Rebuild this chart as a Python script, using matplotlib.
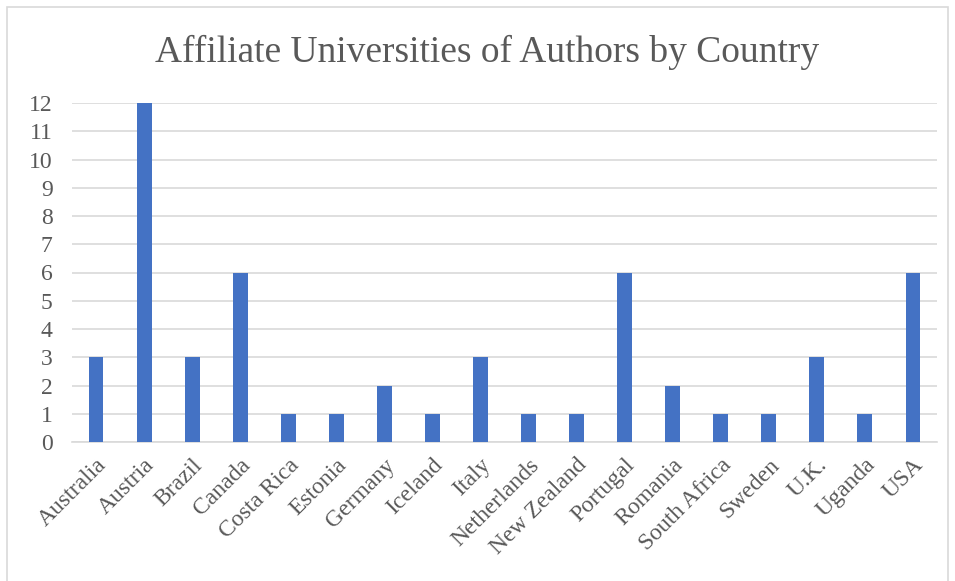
import matplotlib.pyplot as plt
from matplotlib.patches import Rectangle

countries = ["Australia", "Austria", "Brazil", "Canada", "Costa Rica", "Estonia",
             "Germany", "Iceland", "Italy", "Netherlands", "New Zealand", "Portugal",
             "Romania", "South Africa", "Sweden", "U.K.", "Uganda", "USA"]
counts = [3, 12, 3, 6, 1, 1, 2, 1, 3, 1, 1, 6, 2, 1, 1, 3, 1, 6]
yticks = list(range(0, 13))

plt.rcParams['font.family'] = ['Liberation Serif', 'DejaVu Serif']
text_color = "#595959"

fig = plt.figure(figsize=(9.55, 5.81), dpi=100)
ax = fig.add_axes([72 / 955, 1 - 442 / 581, (937 - 72) / 955, (442 - 103) / 581])

x = list(range(len(countries)))
ax.bar(x, counts, width=0.31, color="#4472C4", zorder=3)

ax.set_xlim(-0.5, len(countries) - 0.5)
ax.set_ylim(0, 12)
ax.set_yticks(yticks)
ax.set_xticks(x)
ax.set_xticklabels(countries, rotation=45, ha="right", va="top",
                   rotation_mode="anchor", fontsize=17, color=text_color)
ax.tick_params(axis="y", labelsize=17, labelcolor=text_color, length=0, pad=14)
ax.tick_params(axis="x", length=0, pad=9)

ax.grid(axis="y", color="#D9D9D9", linewidth=1.2, zorder=0)
for s in ["top", "right", "left"]:
    ax.spines[s].set_visible(False)
ax.spines["bottom"].set_color("#D9D9D9")
ax.spines["bottom"].set_linewidth(1.2)

fig.text(487 / 955, 1 - 52 / 581, "Affiliate Universities of Authors by Country",
         ha="center", va="center", fontsize=27, color=text_color)

# light border round the chart area
fig.patches.append(Rectangle((7 / 955, -0.01), (948 - 7) / 955, 1 - 7 / 581 + 0.01,
                             transform=fig.transFigure, fill=False,
                             edgecolor="#D9D9D9", linewidth=1.2))

fig.savefig("out.png", dpi=100)
